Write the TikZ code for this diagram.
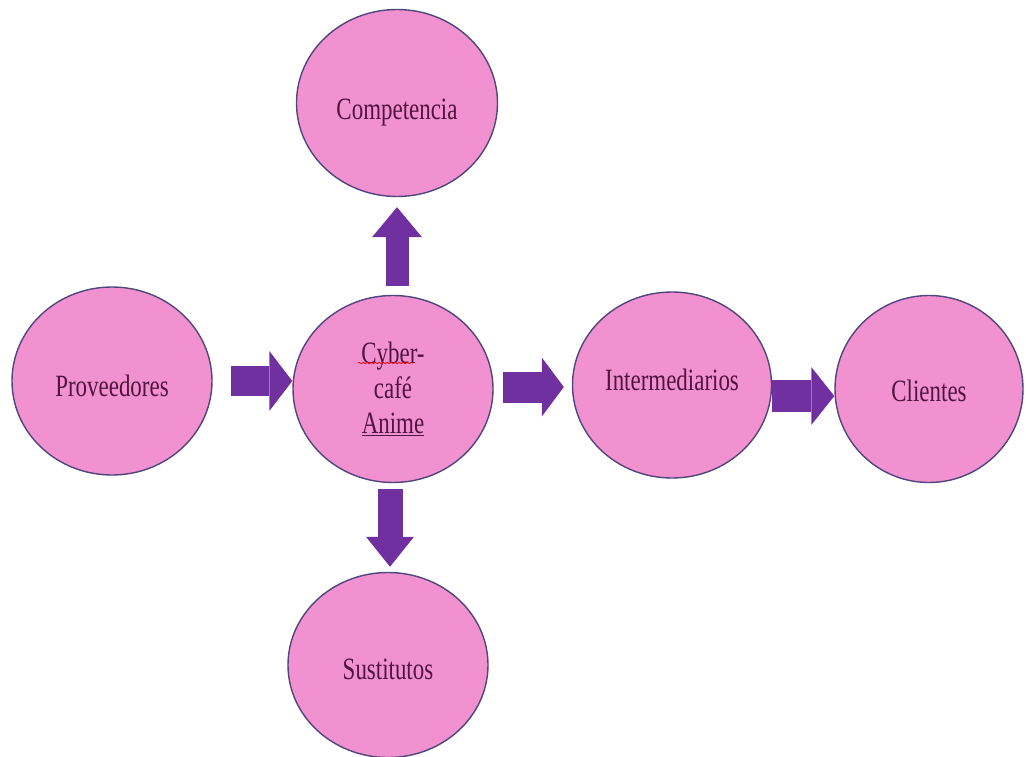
\documentclass[tikz,border=0pt]{standalone}
\usepackage{fontspec}
\setmainfont{Liberation Serif}[FakeStretch=0.74]
\usetikzlibrary{shapes.geometric,arrows.meta,decorations.pathmorphing,calc}
\definecolor{bubble}{RGB}{242,145,208}
\definecolor{rim}{RGB}{78,70,125}
\definecolor{flow}{RGB}{112,48,160}
\definecolor{ink}{RGB}{80,20,62}
\begin{document}
\begin{tikzpicture}[x=1pt,y=-1pt,
  bubblenode/.style={ellipse, draw=rim, fill=bubble, line width=1.4pt, inner sep=0pt,
    text=ink, font=\fontsize{31}{35}\selectfont, align=center},
  textdrop/.style={text height=#1, text depth=0pt},
  blockarrow/.style={draw=flow}]
\useasboundingbox (0,0) rectangle (1026,757);
\node[bubblenode, textdrop=34pt, minimum width=201pt, minimum height=187pt] (comp) at (397,103) {Competencia};
\node[bubblenode, textdrop=30pt, minimum width=200pt, minimum height=188pt] (prov) at (112,381) {Proveedores};
\node[bubblenode, minimum width=200pt, minimum height=187pt] (cyber) at (393,389) {Cyber-\\café\\\underline{Anime}};
\node[bubblenode, textdrop=10pt, minimum width=199pt, minimum height=186pt] (inter) at (672,385) {Intermediarios};
\node[bubblenode, textdrop=24pt, minimum width=188pt, minimum height=187pt] (cli) at (929,389) {Clientes};
\node[bubblenode, textdrop=28pt, minimum width=200pt, minimum height=185pt] (sust) at (388,665) {Sustitutos};
\draw[red, line width=0.7pt, decorate, decoration={snake, amplitude=0.7pt, segment length=4pt}]
  ([xshift=-35pt,yshift=26pt]cyber.center) -- ([xshift=20pt,yshift=26pt]cyber.center);
\draw[blockarrow, line width=30pt, -{Triangle[length=23pt,width=60pt,line width=0pt]}]
  ([xshift=18pt]prov.east) -- (prov.east -| cyber.west);
\draw[blockarrow, line width=31pt, -{Triangle[length=22pt,width=59pt,line width=0pt]}]
  ([xshift=9pt,yshift=2pt]cyber.east) -- ([xshift=-8pt,yshift=-2pt]inter.west);
\draw[blockarrow, line width=32pt, -{Triangle[length=23pt,width=58pt,line width=0pt]}]
  ([yshift=-11pt]inter.east) -- ([yshift=-7pt]cli.west);
\draw[blockarrow, line width=23pt, -{Triangle[length=30pt,width=50pt,line width=0pt]}]
  ([xshift=4pt,yshift=9pt]cyber.north) -- ([yshift=-10pt]comp.south);
\draw[blockarrow, line width=25pt, -{Triangle[length=30pt,width=48pt,line width=0pt]}]
  ([xshift=-3pt,yshift=-6pt]cyber.south) -- ([xshift=2pt,yshift=5pt]sust.north);
\end{tikzpicture}
\end{document}
